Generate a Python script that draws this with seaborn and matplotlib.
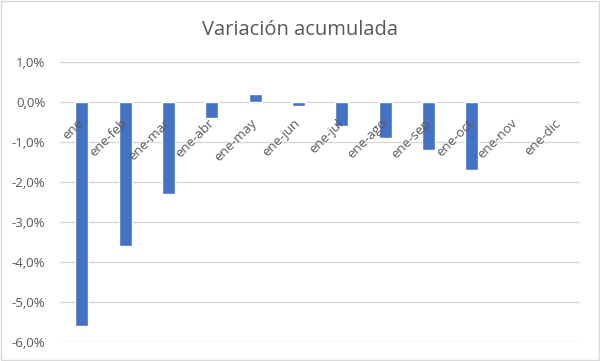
import matplotlib
matplotlib.use("Agg")
import matplotlib.pyplot as plt
import seaborn as sns
import numpy as np
import pandas as pd
from matplotlib.ticker import FuncFormatter

categories = ["ene", "ene-feb", "ene-mar", "ene-abr", "ene-may", "ene-jun",
              "ene-jul", "ene-ago", "ene-sep", "ene-oct", "ene-nov", "ene-dic"]
values = [-5.6, -3.6, -2.3, -0.4, 0.2, -0.1, -0.6, -0.9, -1.2, -1.7, np.nan, np.nan]
yticks = [1, 0, -1, -2, -3, -4, -5, -6]

sns.set_theme(style="white")
plt.rcParams['font.family'] = ['Open Sans', 'DejaVu Sans']

df = pd.DataFrame({"cat": categories, "val": values})

fig = plt.figure(figsize=(6, 3.61), dpi=100)
ax = fig.add_axes([0.1, 0.0526, 0.867, 0.776])
for yv in yticks:
    ax.axhline(yv, color="#D9D9D9", linewidth=1, zorder=0)
sns.barplot(data=df, x="cat", y="val", order=categories, color="#4472C4",
            saturation=1, width=0.3, ax=ax, zorder=1)

ax.set_ylim(-6, 1)
ax.set_yticks(yticks)
ax.yaxis.set_major_formatter(FuncFormatter(lambda v, p: f"{v:.1f}%".replace(".", ",")))
ax.grid(False)
ax.set_axisbelow(False)
ax.xaxis.set_zorder(5)
for s in ["top", "right", "left"]:
    ax.spines[s].set_visible(False)
ax.spines["bottom"].set_position(("data", 0))
ax.spines["bottom"].set_visible(False)
ax.set_xlabel("")
ax.set_ylabel("")
ax.tick_params(axis="both", length=0, colors="#595959", labelsize=9.5)
ax.tick_params(axis="y", pad=10.5)
ax.tick_params(axis="x", pad=14)
for lab in ax.get_xticklabels():
    lab.set_rotation(45)
    lab.set_ha("right")
    lab.set_va("center")
    lab.set_rotation_mode("anchor")
    lab.set_zorder(5)

fig.suptitle("Variación acumulada", y=0.945, fontsize=14.5, color="#595959")

border = plt.Rectangle((0.002, 0.003), 0.996, 0.994, transform=fig.transFigure,
                       fill=False, edgecolor="#D9D9D9", linewidth=1)
fig.patches.append(border)

fig.savefig("out.png", dpi=100)
